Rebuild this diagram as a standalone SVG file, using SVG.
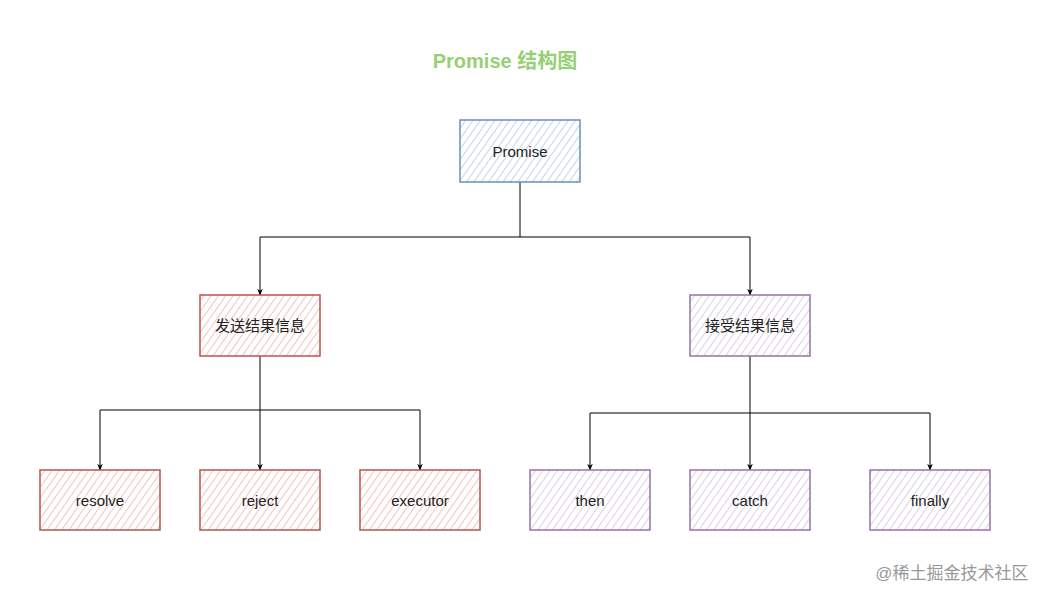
<svg xmlns="http://www.w3.org/2000/svg" width="1051" height="601" viewBox="0 0 1051 601">
<style>
.t{font-family:"Liberation Sans","Noto Sans CJK SC",sans-serif;font-size:15px;fill:#222;text-anchor:middle;dominant-baseline:central}
.c{fill:none;stroke:#000;stroke-width:1}
</style>
<defs>
<pattern id="pb" width="6" height="6" patternUnits="userSpaceOnUse" patternTransform="rotate(35)"><rect width="6" height="6" fill="#fff"/><line x1="0" y1="0" x2="0" y2="6" stroke="#c3d5ec" stroke-width="2"/></pattern>
<pattern id="pr" width="6" height="6" patternUnits="userSpaceOnUse" patternTransform="rotate(35)"><rect width="6" height="6" fill="#fff"/><line x1="0" y1="0" x2="0" y2="6" stroke="#f5c3c0" stroke-width="2"/></pattern>
<pattern id="pp" width="6" height="6" patternUnits="userSpaceOnUse" patternTransform="rotate(35)"><rect width="6" height="6" fill="#fff"/><line x1="0" y1="0" x2="0" y2="6" stroke="#ddd0e4" stroke-width="2"/></pattern>
<marker id="a" viewBox="0 0 10 10" refX="9" refY="5" markerWidth="7" markerHeight="7" orient="auto"><path d="M0,1 L10,5 L0,9 L3,5 Z" fill="#000"/></marker>
</defs>
<rect width="1051" height="601" fill="#fff"/>
<text x="505" y="61" style="font-family:'Liberation Sans','Noto Sans CJK SC',sans-serif;font-size:20px;font-weight:bold;fill:#97d077;text-anchor:middle;dominant-baseline:central">Promise 结构图</text>
<g id="connectors">
<path class="c" d="M520,182 V237 H260 V295" marker-end="url(#a)"/>
<path class="c" d="M520,237 H750 V295" marker-end="url(#a)"/>
<path class="c" d="M260,356 V470" marker-end="url(#a)"/>
<path class="c" d="M260,410 H100 V470" marker-end="url(#a)"/>
<path class="c" d="M260,410 H420 V470" marker-end="url(#a)"/>
<path class="c" d="M750,356 V470" marker-end="url(#a)"/>
<path class="c" d="M750,413 H590 V470" marker-end="url(#a)"/>
<path class="c" d="M750,413 H930 V470" marker-end="url(#a)"/>
</g>
<g id="promise"><rect x="460" y="120" width="120" height="62" fill="url(#pb)" stroke="#6c8ebf" stroke-width="1.5"/><text class="t" x="520" y="151">Promise</text></g>
<g id="send"><rect x="200" y="295" width="120" height="61" fill="url(#pr)" stroke="#b85450" stroke-width="1.5"/><text class="t" x="260" y="325">发送结果信息</text></g>
<g id="recv"><rect x="690" y="295" width="120" height="61" fill="url(#pp)" stroke="#9673a6" stroke-width="1.5"/><text class="t" x="750" y="325">接受结果信息</text></g>
<g id="resolve"><rect x="40" y="470" width="120" height="60" fill="url(#pr)" stroke="#b85450" stroke-width="1.5"/><text class="t" x="100" y="500">resolve</text></g>
<g id="reject"><rect x="200" y="470" width="120" height="60" fill="url(#pr)" stroke="#b85450" stroke-width="1.5"/><text class="t" x="260" y="500">reject</text></g>
<g id="executor"><rect x="360" y="470" width="120" height="60" fill="url(#pr)" stroke="#b85450" stroke-width="1.5"/><text class="t" x="420" y="500">executor</text></g>
<g id="then"><rect x="530" y="470" width="120" height="60" fill="url(#pp)" stroke="#9673a6" stroke-width="1.5"/><text class="t" x="590" y="500">then</text></g>
<g id="catch"><rect x="690" y="470" width="120" height="60" fill="url(#pp)" stroke="#9673a6" stroke-width="1.5"/><text class="t" x="750" y="500">catch</text></g>
<g id="finally"><rect x="870" y="470" width="120" height="60" fill="url(#pp)" stroke="#9673a6" stroke-width="1.5"/><text class="t" x="930" y="500">finally</text></g>
<text x="952" y="573" style="font-family:'Liberation Sans','Noto Sans CJK SC',sans-serif;font-size:17px;fill:#999;text-anchor:middle;dominant-baseline:central">@稀土掘金技术社区</text>
</svg>
